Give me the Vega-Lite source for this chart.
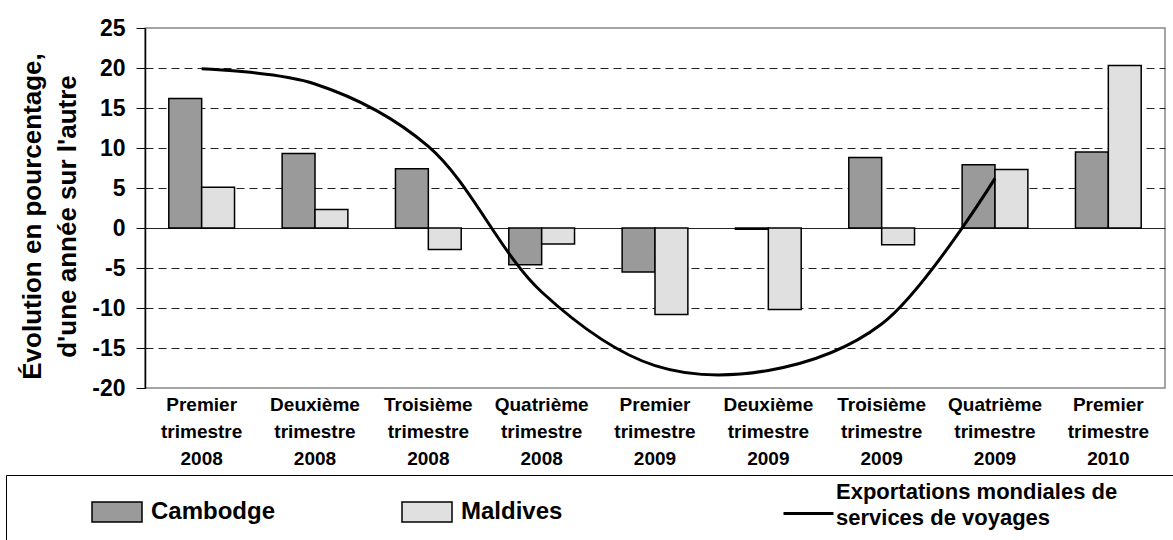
{
  "$schema": "https://vega.github.io/schema/vega-lite/v6.json",
  "width": 1020,
  "height": 360,
  "autosize": {"type": "none"},
  "padding": {"left": 145, "top": 28, "right": 8, "bottom": 152},
  "background": "white",
  "config": {
    "font": "Liberation Sans",
    "view": {"stroke": "#888888", "strokeWidth": 1.5}
  },
  "datasets": {
    "bars": [
      {"trimestre": "Premier trimestre 2008", "series": "Cambodge", "value": 16.2},
      {"trimestre": "Premier trimestre 2008", "series": "Maldives", "value": 5.1},
      {"trimestre": "Deuxième trimestre 2008", "series": "Cambodge", "value": 9.3},
      {"trimestre": "Deuxième trimestre 2008", "series": "Maldives", "value": 2.3},
      {"trimestre": "Troisième trimestre 2008", "series": "Cambodge", "value": 7.4},
      {"trimestre": "Troisième trimestre 2008", "series": "Maldives", "value": -2.7},
      {"trimestre": "Quatrième trimestre 2008", "series": "Cambodge", "value": -4.6},
      {"trimestre": "Quatrième trimestre 2008", "series": "Maldives", "value": -2.0},
      {"trimestre": "Premier trimestre 2009", "series": "Cambodge", "value": -5.5},
      {"trimestre": "Premier trimestre 2009", "series": "Maldives", "value": -10.8},
      {"trimestre": "Deuxième trimestre 2009", "series": "Cambodge", "value": -0.15},
      {"trimestre": "Deuxième trimestre 2009", "series": "Maldives", "value": -10.2},
      {"trimestre": "Troisième trimestre 2009", "series": "Cambodge", "value": 8.8},
      {"trimestre": "Troisième trimestre 2009", "series": "Maldives", "value": -2.1},
      {"trimestre": "Quatrième trimestre 2009", "series": "Cambodge", "value": 7.9},
      {"trimestre": "Quatrième trimestre 2009", "series": "Maldives", "value": 7.3},
      {"trimestre": "Premier trimestre 2010", "series": "Cambodge", "value": 9.5},
      {"trimestre": "Premier trimestre 2010", "series": "Maldives", "value": 20.3}
    ],
    "line": [
      {"trimestre": "Premier trimestre 2008", "value": 19.9},
      {"trimestre": "Deuxième trimestre 2008", "value": 18.0},
      {"trimestre": "Troisième trimestre 2008", "value": 10.2},
      {"trimestre": "Quatrième trimestre 2008", "value": -8.0},
      {"trimestre": "Premier trimestre 2009", "value": -17.2},
      {"trimestre": "Deuxième trimestre 2009", "value": -17.8},
      {"trimestre": "Troisième trimestre 2009", "value": -12.0},
      {"trimestre": "Quatrième trimestre 2009", "value": 6.2}
    ]
  },
  "encoding": {
    "x": {
      "field": "trimestre",
      "type": "nominal",
      "sort": null,
      "scale": {
        "domain": ["Premier trimestre 2008", "Deuxième trimestre 2008", "Troisième trimestre 2008", "Quatrième trimestre 2008", "Premier trimestre 2009", "Deuxième trimestre 2009", "Troisième trimestre 2009", "Quatrième trimestre 2009", "Premier trimestre 2010"],
        "paddingInner": 0.42,
        "paddingOuter": 0.21
      },
      "axis": {
        "title": null,
        "labelExpr": "split(datum.label, ' ')",
        "labelFontSize": 19,
        "labelFontWeight": "bold",
        "labelColor": "black",
        "labelLineHeight": 27,
        "labelPadding": 7,
        "labelAngle": 0,
        "labelOverlap": false,
        "labelBound": false,
        "labelLimit": 0,
        "ticks": false,
        "domain": false
      }
    },
    "y": {
      "field": "value",
      "type": "quantitative",
      "scale": {"domain": [-20, 25], "nice": false, "zero": false},
      "axis": {
        "values": [-20, -15, -10, -5, 0, 5, 10, 15, 20, 25],
        "labelExpr": "toString(datum.value)",
        "labelOverlap": false,
        "labelBound": false,
        "labelFlush": false,
        "labelFontSize": 23,
        "labelFontWeight": "bold",
        "labelColor": "black",
        "labelPadding": 11,
        "tickSize": 9,
        "tickColor": "black",
        "tickWidth": 1,
        "domainColor": "black",
        "domainWidth": 1.5,
        "grid": true,
        "gridColor": "#222222",
        "gridWidth": 1,
        "gridDash": {"condition": {"test": "datum.value === 0", "value": []}, "value": [8, 5]},
        "gridOpacity": {"condition": {"test": "datum.value === 25 || datum.value === -20", "value": 0}, "value": 1},
        "title": ["Évolution en pourcentage,", "d'une année sur l'autre"],
        "titleFontSize": 26,
        "titleFontWeight": "bold",
        "titleColor": "black",
        "titleLineHeight": 35,
        "titleAngle": -90,
        "titleAlign": "center",
        "titleBaseline": "middle",
        "titleX": -113,
        "titleY": 188
      }
    }
  },
  "layer": [
    {
      "data": {"name": "bars"},
      "mark": {"type": "bar", "stroke": "black", "strokeWidth": 1.5},
      "encoding": {
        "xOffset": {
          "field": "series",
          "type": "nominal",
          "sort": ["Cambodge", "Maldives"],
          "scale": {"paddingInner": 0, "paddingOuter": 0}
        },
        "fill": {
          "field": "series",
          "type": "nominal",
          "scale": {"domain": ["Cambodge", "Maldives"], "range": ["#9a9a9a", "#e0e0e0"]},
          "legend": {
            "title": null,
            "orient": "none",
            "legendX": -54,
            "legendY": 458,
            "direction": "horizontal",
            "columns": 2,
            "columnPadding": 123,
            "symbolType": "M-1,-0.4H1V0.4H-1Z",
            "symbolSize": 2500,
            "symbolStrokeColor": "black",
            "symbolStrokeWidth": 1.5,
            "labelFontSize": 24,
            "labelFontWeight": "bold",
            "labelColor": "black",
            "labelOffset": 8,
            "labelFont": "Liberation Sans"
          }
        }
      }
    },
    {
      "data": {"name": "line"},
      "mark": {"type": "line", "interpolate": "catmull-rom", "strokeWidth": 3},
      "encoding": {
        "stroke": {
          "datum": "Exportations mondiales de services de voyages",
          "scale": {"range": ["black"]},
          "legend": {
            "title": "\u00a0",
            "titleOrient": "right",
            "titlePadding": 60,
            "titleFontSize": 1,
            "orient": "none",
            "legendX": -139,
            "legendY": 447,
            "strokeColor": "black",
            "padding": 12,
            "symbolType": "stroke",
            "symbolSize": 2500,
            "symbolStrokeWidth": 3,
            "symbolStrokeColor": "black",
            "symbolOffset": 764,
            "labelExpr": "['Exportations mondiales de', 'services de voyages']",
            "labelFontSize": 22,
            "labelFontWeight": "bold",
            "labelColor": "black",
            "labelOffset": 1,
            "labelFont": "Liberation Sans",
            "labelLimit": 0,
            "encode": {
              "labels": {"update": {"lineHeight": {"value": 26}, "dy": {"value": -22}}}
            }
          }
        }
      }
    }
  ]
}
